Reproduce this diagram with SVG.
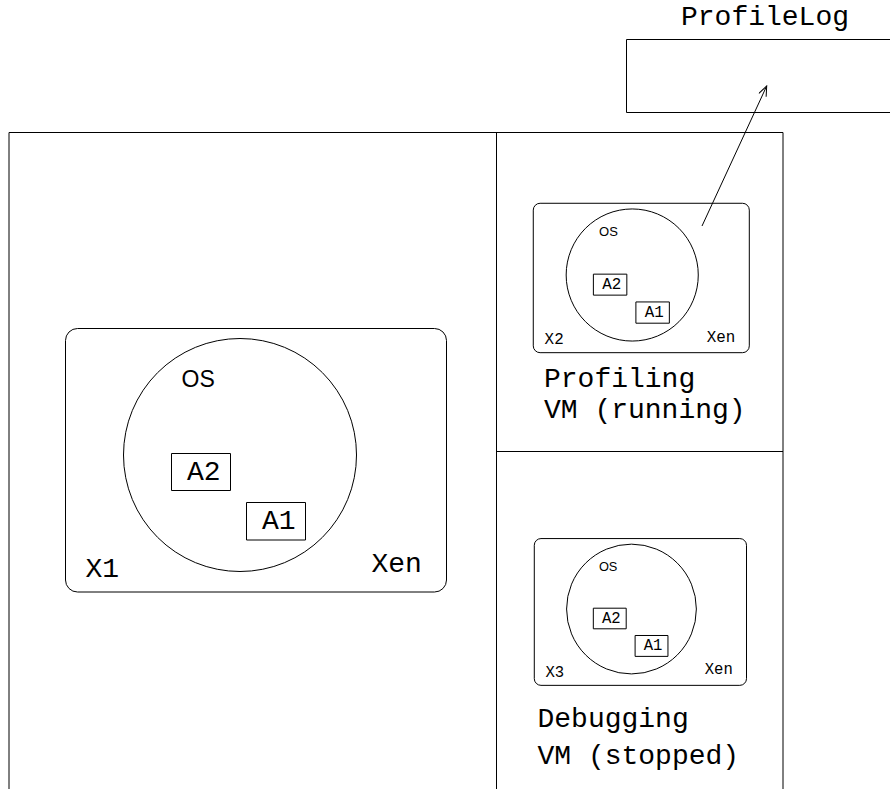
<svg xmlns="http://www.w3.org/2000/svg" xmlns:xlink="http://www.w3.org/1999/xlink" width="890" height="789" viewBox="0 0 890 789">
  <style>
    .line { fill: none; stroke: #000; stroke-width: 1; }
    .thin { fill: none; stroke: #000; stroke-width: 1; vector-effect: non-scaling-stroke; }
    .box { fill: #fff; stroke: #000; stroke-width: 1; vector-effect: non-scaling-stroke; }
    .mono { font-family: "Liberation Mono", "Courier New", monospace; font-size: 28px; fill: #000; }
    .sans { font-family: "Liberation Sans", Arial, sans-serif; font-size: 23px; fill: #000; }
  </style>
  <defs>
    <marker id="open-arrow" markerUnits="userSpaceOnUse" markerWidth="12" markerHeight="10" refX="11" refY="4.5" orient="auto">
      <path d="M1,0.5 L11,4.5 L1,8.5" fill="none" stroke="#000" stroke-width="1"/>
    </marker>
  </defs>

  <rect width="890" height="789" fill="#fff"/>

  <!-- host frame: outer panel split into three areas -->
  <g id="host-frame">
    <path class="line" d="M9,789 V132.5 H783 V789"/>
    <path class="line" d="M496.5,132.5 V789"/>
    <path class="line" d="M496.5,451.5 H783"/>
  </g>

  <!-- profile log store -->
  <g id="profile-log">
    <text class="mono" x="681" y="25">ProfileLog</text>
    <path class="line" d="M890,39.5 H626.5 V112.5 H890"/>
  </g>

  <!-- main VM X1 -->
  <g id="vm-x1">
    <rect class="box" x="65.5" y="328.5" width="381" height="263.5" rx="12" ry="12"/>
    <circle class="thin" cx="240" cy="455" r="116.5"/>
    <text class="sans" x="181.5" y="387">OS</text>
    <rect class="box" x="171.5" y="453.5" width="59" height="37"/>
    <text class="mono" x="187" y="480">A2</text>
    <rect class="box" x="246.5" y="502.5" width="59" height="37.5"/>
    <text class="mono" x="262" y="529">A1</text>
    <text class="mono" x="85.5" y="576.7">X1</text>
    <text class="mono" x="371.5" y="572.3">Xen</text>
  </g>

  <!-- profiling VM X2 -->
  <g id="vm-x2" transform="translate(496.14,17.02) scale(0.567)">
    <rect class="box" x="65.5" y="328.5" width="381" height="263.5" rx="12" ry="12"/>
    <circle class="thin" cx="240" cy="455" r="116.5"/>
    <text class="sans" x="181.5" y="387">OS</text>
    <rect class="box" x="171.5" y="453.5" width="59" height="37"/>
    <text class="mono" x="187" y="480">A2</text>
    <rect class="box" x="246.5" y="502.5" width="59" height="37.5"/>
    <text class="mono" x="262" y="529">A1</text>
    <text class="mono" x="85.5" y="576.7">X2</text>
    <text class="mono" x="371.5" y="572.3">Xen</text>
  </g>
  <g id="label-profiling">
    <text class="mono" x="544" y="387.3">Profiling</text>
    <text class="mono" x="544" y="418.3">VM (running)</text>
  </g>

  <!-- debugging VM X3 -->
  <g id="vm-x3" transform="translate(497.8,355.6) scale(0.557)">
    <rect class="box" x="65.5" y="328.5" width="381" height="263.5" rx="12" ry="12"/>
    <circle class="thin" cx="240" cy="455" r="116.5"/>
    <text class="sans" x="181.5" y="387">OS</text>
    <rect class="box" x="171.5" y="453.5" width="59" height="37"/>
    <text class="mono" x="187" y="480">A2</text>
    <rect class="box" x="246.5" y="502.5" width="59" height="37.5"/>
    <text class="mono" x="262" y="529">A1</text>
    <text class="mono" x="85.5" y="576.7">X3</text>
    <text class="mono" x="371.5" y="572.3">Xen</text>
  </g>
  <g id="label-debugging">
    <text class="mono" x="537.5" y="726.7">Debugging</text>
    <text class="mono" x="537.5" y="764.3">VM (stopped)</text>
  </g>

  <!-- connectors -->
  <g id="connectors">
    <path class="line" d="M702,226 L766.7,86" marker-end="url(#open-arrow)"/>
  </g>
</svg>
